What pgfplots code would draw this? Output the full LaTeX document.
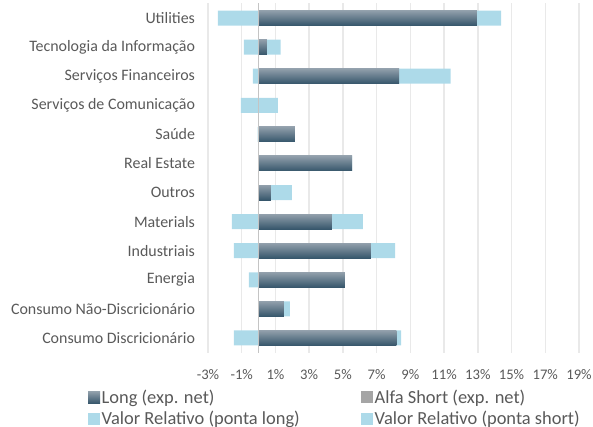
\documentclass[border=0pt]{standalone}
\usepackage{pgfplots}
\pgfplotsset{compat=1.18}
\usepackage{pgfplotstable}
\usepackage{fontspec}
\setmainfont{Carlito}
\definecolor{darkbar}{HTML}{36566B}
\definecolor{topbar}{HTML}{919FAB}
\definecolor{lightbar}{HTML}{ADDAE9}
\definecolor{alfa}{HTML}{A5A5A5}
\definecolor{gridc}{HTML}{E9E9E9}
\definecolor{txt}{HTML}{595959}
\definecolor{zeroc}{HTML}{C4C4C4}

% idx: 0 = bottom category
\pgfplotstableread{
idx long alfa vrl vrs
0  8.17 0 0.28 -1.47
1  1.50 0 0.36  0
2  5.12 0 0.00 -0.58
3  6.66 0 1.43 -1.47
4  4.35 0 1.84 -1.58
5  0.73 0 1.25  0
6  5.54 0 0.00  0
7  2.15 0 0.00 -0.05
8  0.00 0 1.15 -1.05
9  8.33 0 3.06 -0.34
10 0.49 0 0.81 -0.87
11 12.95 0 1.43 -2.42
}\datatable

\begin{document}
\begin{tikzpicture}
\useasboundingbox (-208bp,-74.5bp) rectangle (385bp,352.5bp);
\begin{axis}[
  at={(0,0)}, anchor=south west,
  scale only axis, width=371bp, height=349bp,
  xmin=-3, xmax=19, ymin=-0.5, ymax=11.5,
  xbar, bar width=15bp, bar shift=0pt,
  axis line style={draw=none},
  major tick length=0pt,
  xtick={-3,-1,1,3,5,7,9,11,13,15,17,19},
  xticklabels={-3\%,-1\%,1\%,3\%,5\%,7\%,9\%,11\%,13\%,15\%,17\%,19\%},
  ytick={0,...,11},
  yticklabels={Consumo Discricionário,Consumo Não-Discricionário,Energia,Industriais,Materials,Outros,Real Estate,Saúde,Serviços de Comunicação,Serviços Financeiros,Tecnologia da Informação,Utilities},
  xticklabel style={font=\fontsize{14.7}{16}\selectfont, text=txt, yshift=-13bp},
  yticklabel style={font=\fontsize{16}{18}\selectfont, text=txt, xshift=-9.5bp},
  xmajorgrids, ymajorgrids=false,
  grid style={gridc, line width=1.4bp},
  legend columns=2,
  legend cell align=left,
  legend style={draw=none, fill=none, inner sep=0pt, at={(axis description cs:-0.3235,-0.1025)}, anchor=north west,
    font=\fontsize{18.5}{20}\selectfont, text=txt, row sep=3.5bp, nodes={inner sep=1.5bp}},
  legend image code/.code={\fill[#1] (0bp,-6bp) rectangle (12bp,6bp);},
]
\addplot[forget plot, draw=none, fill=lightbar] table[x=vrs, y=idx] {\datatable};
\addplot[forget plot, draw=none, fill=lightbar] table[x expr=\thisrow{long}+\thisrow{vrl}, y=idx] {\datatable};
\pgfplotsinvokeforeach{0,1,2,3,4,5,6,7,9,10,11}{
  \addplot[forget plot, draw=none, top color=topbar, middle color=darkbar, bottom color=darkbar, restrict y to domain=#1:#1] table[x=long, y=idx] {\datatable};
}
\addplot[forget plot, draw=none, fill=alfa] table[x=alfa, y=idx] {\datatable};
\draw[zeroc, line width=1.8bp] (axis cs:0,-0.5) -- (axis cs:0,11.5);
\addlegendimage{top color=topbar, middle color=darkbar, bottom color=darkbar, draw=none}
\addlegendentry{\makebox[258bp][l]{Long (exp. net)}}
\addlegendimage{fill=alfa, draw=none}
\addlegendentry{Alfa Short (exp. net)}
\addlegendimage{fill=lightbar, draw=none}
\addlegendentry{\makebox[258bp][l]{Valor Relativo (ponta long)}}
\addlegendimage{fill=lightbar, draw=none}
\addlegendentry{Valor Relativo (ponta short)}
\end{axis}
\end{tikzpicture}
\end{document}
